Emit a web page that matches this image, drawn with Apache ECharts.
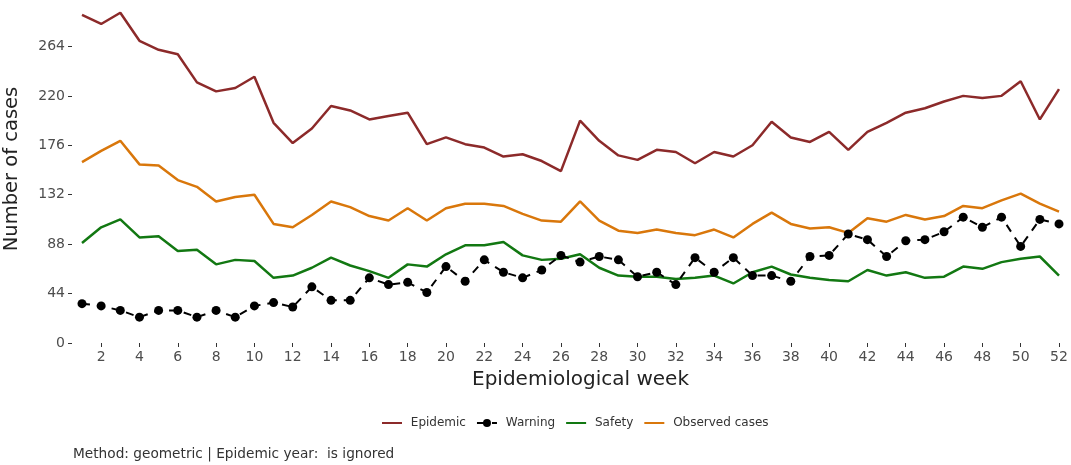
<!DOCTYPE html>
<html>
<head>
<meta charset="utf-8">
<script src="https://cdn.jsdelivr.net/npm/echarts@6/dist/echarts.min.js"></script>
<style>
  html, body { margin: 0; padding: 0; background: #fff; }
  #chart { width: 1071px; height: 465px; }
</style>
</head>
<body>
<div id="chart"></div>
<script>
// weeks 1..52
const weeks = Array.from({ length: 52 }, (_, i) => String(i + 1));

const yTicks = [0, 44, 88, 132, 176, 220, 264];

const epidemic = [
  292, 284, 294, 269, 261, 257, 232, 224, 227, 237, 196, 178, 191,
  211, 207, 199, 202, 205, 177, 183, 177, 174, 166, 168, 162, 153,
  198, 180, 167, 163, 172, 170, 160, 170, 166, 176, 197, 183, 179,
  188, 172, 188, 196, 205, 209, 215, 220, 218, 220, 233, 199, 226
];

const warning = [
  35, 33, 29, 23, 29, 29, 23, 29, 23, 33, 36, 32, 50,
  38, 38, 58, 52, 54, 45, 68, 55, 74, 63, 58, 65, 78,
  72, 77, 74, 59, 63, 52, 76, 63, 76, 60, 60, 55, 77,
  78, 97, 92, 77, 91, 92, 99, 112, 103, 112, 86, 110, 106
];

const safety = [
  89, 103, 110, 94, 95, 82, 83, 70, 74, 73, 58, 60, 67,
  76, 69, 64, 58, 70, 68, 79, 87, 87, 90, 78, 74, 75,
  79, 67, 60, 59, 59, 57, 58, 60, 53, 63, 68, 61, 58,
  56, 55, 65, 60, 63, 58, 59, 68, 66, 72, 75, 77, 60
];

const observed = [
  161, 171, 180, 159, 158, 145, 139, 126, 130, 132, 106, 103, 114,
  126, 121, 113, 109, 120, 109, 120, 124, 124, 122, 115, 109, 108,
  126, 109, 100, 98, 101, 98, 96, 101, 94, 106, 116, 106, 102,
  103, 98, 111, 108, 114, 110, 113, 122, 120, 127, 133, 124, 117
];

const FONT = "DejaVu Sans";
const chart = echarts.init(document.getElementById("chart"));

const lineSeries = (name, data, color) => ({
  name,
  type: "line",
  data,
  symbol: "none",
  lineStyle: { color, width: 2.5 },
  itemStyle: { color },
  z: 2
});

// plain line icons in the legend (hide the dot for lines without points)
const noDot = { opacity: 0 };

const option = {
  animation: false,
  textStyle: { fontFamily: FONT },
  grid: { left: 82, right: 12, top: 6, bottom: 122, outerBoundsMode: "none" },
  legend: {
    top: 412,
    left: 376,
    itemWidth: 20,
    itemHeight: 10,
    itemGap: 10,
    formatter: (name) => " " + name,
    textStyle: { fontFamily: FONT, fontSize: 12, color: "#333" },
    data: [
      { name: "Epidemic", itemStyle: noDot },
      { name: "Warning" },
      { name: "Safety", itemStyle: noDot },
      { name: "Observed cases", itemStyle: noDot }
    ]
  },
  graphic: [{
    type: "text",
    left: 73,
    top: 447,
    style: {
      text: "Method: geometric | Epidemic year:  is ignored",
      font: "13.7px DejaVu Sans",
      fill: "#333"
    }
  }],
  xAxis: {
    type: "category",
    data: weeks,
    boundaryGap: false,
    name: "Epidemiological week",
    nameLocation: "middle",
    nameGap: 27,
    nameTextStyle: { fontFamily: FONT, fontSize: 20, color: "#222", padding: [0, 0, 0, 20] },
    axisLine: { show: false },
    axisTick: {
      show: true,
      length: 4,
      interval: (i) => i % 2 === 1,
      lineStyle: { color: "#333" }
    },
    axisLabel: {
      interval: (i) => i % 2 === 1,
      fontFamily: FONT,
      fontSize: 14,
      color: "#4d4d4d",
      margin: 7
    },
    splitLine: { show: false }
  },
  yAxis: {
    type: "value",
    min: 0,
    max: 300,
    offset: 10,
    name: "Number of cases",
    nameLocation: "middle",
    nameGap: 50,
    nameTextStyle: { fontFamily: FONT, fontSize: 19.5, color: "#222", padding: [0, 0, 0, 11] },
    axisLine: { show: false },
    axisTick: {
      show: true,
      length: 4,
      customValues: yTicks,
      lineStyle: { color: "#333" }
    },
    axisLabel: {
      customValues: yTicks,
      fontFamily: FONT,
      fontSize: 14,
      color: "#4d4d4d",
      margin: 7
    },
    splitLine: { show: false }
  },
  series: [
    lineSeries("Epidemic", epidemic, "#8c2a2a"),
    {
      name: "Warning",
      type: "line",
      data: warning,
      symbol: "circle",
      symbolSize: 9,
      lineStyle: { color: "#000", width: 2, type: [8, 7] },
      itemStyle: { color: "#000" },
      z: 3
    },
    lineSeries("Safety", safety, "#127812"),
    lineSeries("Observed cases", observed, "#d9770b")
  ]
};

chart.setOption(option);
</script>
</body>
</html>
